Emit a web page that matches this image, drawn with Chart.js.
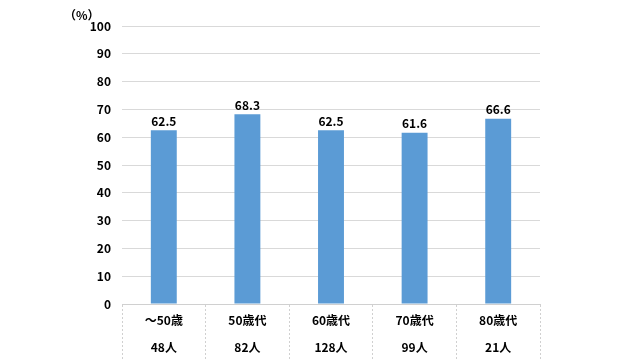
<!DOCTYPE html>
<html><head><meta charset="utf-8">
<script src="https://cdn.jsdelivr.net/npm/chart.js@4/dist/chart.umd.min.js"></script>
<style>html,body{margin:0;padding:0;background:#fff}#wrap{width:640px;height:360px}</style>
</head><body><div id="wrap"><canvas id="c" width="640" height="360"></canvas></div>
<script>
const categories = ['～50歳', '50歳代', '60歳代', '70歳代', '80歳代'];
const counts = ['48人', '82人', '128人', '99人', '21人'];
const values = [62.5, 68.3, 62.5, 61.6, 66.6];
const yTicks = [0, 10, 20, 30, 40, 50, 60, 70, 80, 90, 100];
const FONT = '"Noto Sans CJK JP", "Noto Sans", sans-serif';

const labelPlugin = {
  id: 'labels',
  afterDatasetsDraw(chart) {
    const ctx = chart.ctx;
    ctx.save();
    ctx.font = 'bold 12px ' + FONT;
    ctx.fillStyle = '#000';
    ctx.textAlign = 'center';
    ctx.textBaseline = 'bottom';
    chart.getDatasetMeta(0).data.forEach((bar, i) => {
      ctx.fillText(values[i].toFixed(1), bar.x, bar.y - 3);
    });
    ctx.font = 'bold 12px ' + FONT;
    ctx.textAlign = 'left';
    ctx.textBaseline = 'middle';
    ctx.fillText('（%）', 64, 15);
    ctx.restore();
  }
};

new Chart(document.getElementById('c'), {
  type: 'bar',
  data: {
    labels: categories.map((c, i) => [c, counts[i]]),
    datasets: [{ data: values, backgroundColor: '#5B9BD5', categoryPercentage: 1, barPercentage: 0.31 }]
  },
  options: {
    responsive: false,
    animation: false,
    layout: { padding: { top: 26, right: 100, bottom: 0, left: 0 } },
    plugins: { legend: { display: false }, tooltip: { enabled: false } },
    scales: {
      x: {
        offset: true,
        grid: { offset: true, drawOnChartArea: false, drawTicks: true, tickLength: 56, tickColor: '#d0d0d0', tickBorderDash: [2, 2], tickWidth: 1 },
        border: { display: true, color: '#d0d0d0' },
        ticks: { color: '#000', font: { family: FONT, size: 12, weight: 'bold', lineHeight: 2.25 }, padding: -53, maxRotation: 0 },
        afterFit(s) { s.height = 56; }
      },
      y: {
        min: 0, max: 100,
        afterBuildTicks(s) { s.ticks = yTicks.map(v => ({ value: v })); },
        grid: { color: '#d9d9d9', drawTicks: false },
        border: { display: false },
        ticks: { color: '#000', font: { family: FONT, size: 12, weight: 'bold' }, padding: 11 },
        afterFit(s) { s.width = 122; }
      }
    }
  },
  plugins: [labelPlugin]
});
</script></body></html>
